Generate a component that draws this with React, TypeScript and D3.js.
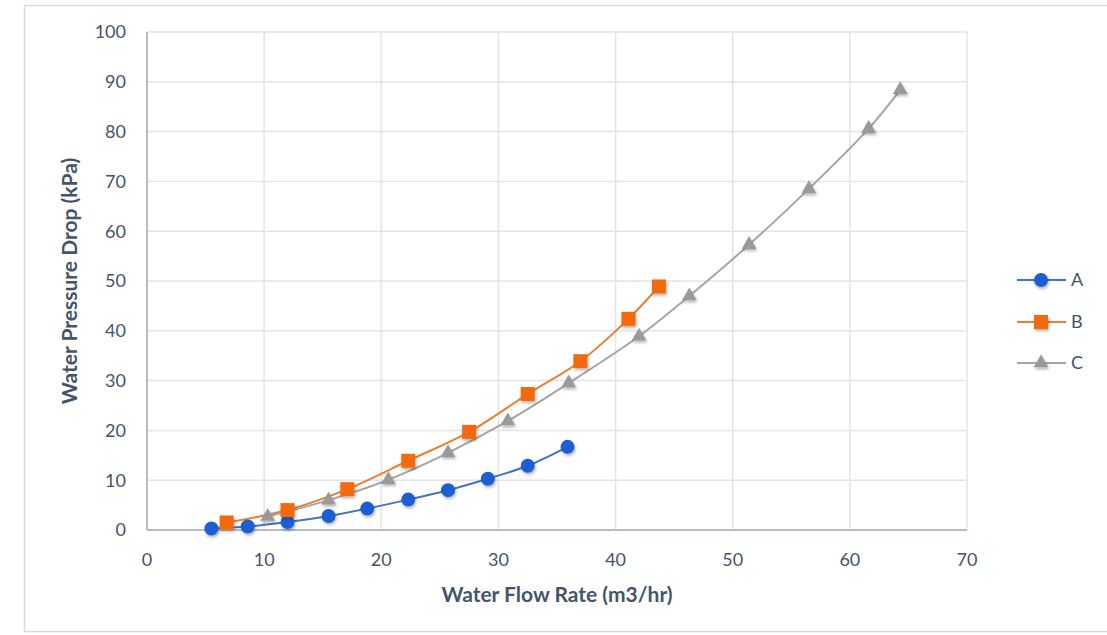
import React from "react";
import * as d3 from "d3";

const seriesNames = ["A", "B", "C"];
const aFlow = [5.5, 8.6, 12.0, 15.5, 18.8, 22.3, 25.7, 29.1, 32.5, 35.9];
const aDrop = [0.3, 0.7, 1.6, 2.8, 4.3, 6.1, 8.0, 10.3, 12.9, 16.7];
const bFlow = [6.8, 12.0, 17.1, 22.3, 27.5, 32.5, 37.0, 41.1, 43.7];
const bDrop = [1.5, 4.0, 8.2, 13.9, 19.7, 27.3, 33.9, 42.4, 48.9];
const cFlow = [10.3, 15.5, 20.6, 25.7, 30.8, 36.0, 42.0, 46.3, 51.4, 56.5, 61.6, 64.3];
const cDrop = [2.7, 6.0, 10.1, 15.5, 21.9, 29.5, 38.9, 47.0, 57.3, 68.5, 80.6, 88.4];
const xTicks = [0, 10, 20, 30, 40, 50, 60, 70];
const yTicks = [0, 10, 20, 30, 40, 50, 60, 70, 80, 90, 100];

const lineColors = ["#4472c4", "#ed7d31", "#a5a5a5"];
const markerColors = ["#1f5fd3", "#f26a0c", "#9a9a9a"];
const textColor = "#44546a";
const font = "Lato, 'Open Sans', sans-serif";

export default function App() {
  const W = 1107, H = 635;
  const L = 147, R = 967, T = 32, B = 530;
  const x = d3.scaleLinear().domain([0, 70]).range([L, R]);
  const y = d3.scaleLinear().domain([0, 100]).range([B, T]);
  const data = [
    aFlow.map((f, i) => [f, aDrop[i]]),
    bFlow.map((f, i) => [f, bDrop[i]]),
    cFlow.map((f, i) => [f, cDrop[i]]),
  ];
  const line = d3
    .line<number[]>()
    .x((d) => x(d[0]))
    .y((d) => y(d[1]))
    .curve(d3.curveCatmullRom.alpha(0.5));

  const marker = (s: number, cx: number, cy: number, key: string | number) => {
    if (s === 0) return <circle key={key} cx={cx} cy={cy} r={7} fill={markerColors[0]} filter="url(#sh)" />;
    if (s === 1)
      return <rect key={key} x={cx - 7} y={cy - 7} width={14} height={14} fill={markerColors[1]} filter="url(#sh)" />;
    const p = d3.symbol(d3.symbolTriangle, 95)();
    return <path key={key} d={p as string} transform={`translate(${cx},${cy})`} fill={markerColors[2]} filter="url(#sh)" />;
  };

  const legendY = [280, 322, 363];

  return (
    <svg width={W} height={H} style={{ position: "absolute", left: 0, top: 0, background: "#fff" }}>
      <defs>
        <filter id="sh" x="-50%" y="-50%" width="200%" height="200%">
          <feDropShadow dx="1" dy="2" stdDeviation="1.5" floodColor="#000" floodOpacity="0.3" />
        </filter>
      </defs>
      <rect x={24.5} y={5.5} width={1100} height={626} fill="#fff" stroke="#d9d9d9" strokeWidth={1.5} />
      {yTicks.map((t) => (
        <line key={"gy" + t} x1={L} x2={R} y1={y(t)} y2={y(t)} stroke="#e1e4e9" strokeWidth={1.5} />
      ))}
      {xTicks.map((t) => (
        <line key={"gx" + t} x1={x(t)} x2={x(t)} y1={T} y2={B} stroke="#e1e4e9" strokeWidth={1.5} />
      ))}
      <line x1={L} x2={L} y1={T} y2={B} stroke="#b4bccb" strokeWidth={2} />
      <line x1={L} x2={R} y1={B} y2={B} stroke="#b4bccb" strokeWidth={2} />
      {yTicks.map((t) => (
        <text key={"ty" + t} x={126} y={y(t)} dy="0.35em" textAnchor="end" fontSize={18} fill={textColor} fontFamily={font}>
          {t}
        </text>
      ))}
      {xTicks.map((t) => (
        <text key={"tx" + t} x={x(t)} y={560} dy="0.35em" textAnchor="middle" fontSize={18} fill={textColor} fontFamily={font}>
          {t}
        </text>
      ))}
      <text x={557} y={595} dy="0.35em" textAnchor="middle" fontSize={21} fontWeight="bold" fill={textColor} fontFamily={font}>
        Water Flow Rate (m3/hr)
      </text>
      <text
        transform={`translate(70,281) rotate(-90)`}
        dy="0.35em"
        textAnchor="middle"
        fontSize={21}
        fontWeight="bold"
        fill={textColor}
        fontFamily={font}
      >
        Water Pressure Drop (kPa)
      </text>
      {data.map((d, s) => (
        <path key={"l" + s} d={line(d) as string} fill="none" stroke={lineColors[s]} strokeWidth={2} />
      ))}
      {data.map((d, s) => d.map((p, i) => marker(s, x(p[0]), y(p[1]), `m${s}-${i}`)))}
      {seriesNames.map((n, s) => (
        <g key={"lg" + n}>
          <line x1={1017} x2={1066} y1={legendY[s]} y2={legendY[s]} stroke={lineColors[s]} strokeWidth={2} />
          {marker(s, 1041, legendY[s], "lm" + s)}
          <text x={1071} y={legendY[s]} dy="0.35em" fontSize={18} fill={textColor} fontFamily={font}>
            {n}
          </text>
        </g>
      ))}
    </svg>
  );
}
